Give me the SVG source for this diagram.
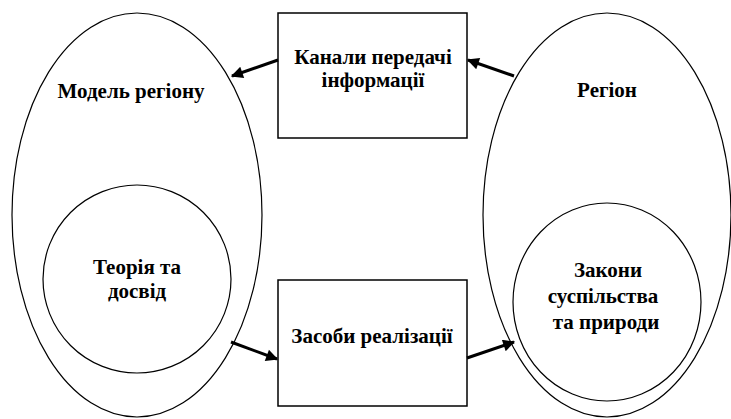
<svg xmlns="http://www.w3.org/2000/svg" width="731" height="419" viewBox="0 0 731 419">
  <style>
    .shape { fill: none; stroke: #000; stroke-width: 1.2; }
    .box { fill: #fff; stroke: #000; stroke-width: 1.5; }
    .label { font-family: "Liberation Serif", "Times New Roman", serif; font-weight: bold; font-size: 21px; fill: #000; text-anchor: middle; }
    .conn { stroke: #000; stroke-width: 3; fill: none; marker-end: url(#arrow); }
  </style>
  <defs>
    <marker id="arrow" viewBox="0 0 10 10" refX="9" refY="5" markerWidth="5" markerHeight="4" markerUnits="strokeWidth" orient="auto">
      <path d="M0,0 L10,5 L0,10 Z" fill="#000"/>
    </marker>
  </defs>
  <rect width="731" height="419" fill="#fff"/>

  <g id="model">
    <ellipse class="shape" cx="137" cy="215" rx="125" ry="202"/>
    <text class="label" x="131" y="98">Модель регіону</text>
  </g>
  <g id="theory">
    <circle class="shape" cx="137" cy="279" r="94"/>
    <text class="label" x="137" y="274">Теорія та</text>
    <text class="label" x="137" y="298">досвід</text>
  </g>
  <g id="region">
    <ellipse class="shape" cx="607" cy="215" rx="124" ry="202"/>
    <text class="label" x="607" y="97">Регіон</text>
  </g>
  <g id="laws">
    <ellipse class="shape" cx="607" cy="302" rx="94" ry="99"/>
    <text class="label" x="608" y="277">Закони</text>
    <text class="label" x="603" y="303">суспільства</text>
    <text class="label" x="606" y="329">та природи</text>
  </g>
  <g id="channels">
    <rect class="box" x="278" y="13" width="189" height="125"/>
    <text class="label" x="373" y="64">Канали передачі</text>
    <text class="label" x="373" y="87">інформації</text>
  </g>
  <g id="means">
    <rect class="box" x="278" y="280" width="189" height="126"/>
    <text class="label" x="372" y="343">Засоби реалізації</text>
  </g>

  <g id="connectors">
    <line class="conn" x1="278" y1="60" x2="232" y2="76"/>
    <line class="conn" x1="514" y1="76" x2="468" y2="60"/>
    <line class="conn" x1="231" y1="342" x2="277" y2="359"/>
    <line class="conn" x1="467" y1="358" x2="514" y2="342"/>
  </g>
</svg>
